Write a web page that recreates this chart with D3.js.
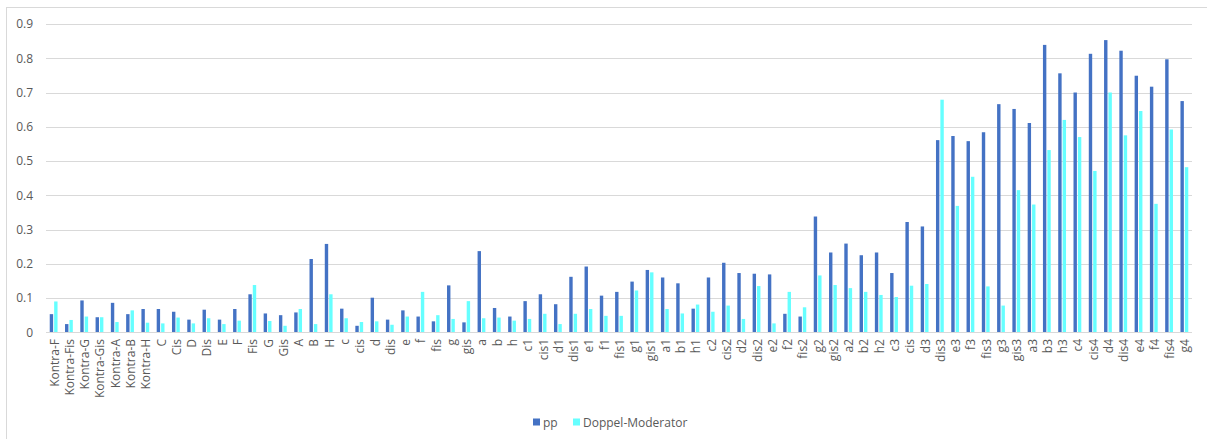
<!DOCTYPE html>
<html>
<head>
<meta charset="utf-8">
<script src="https://cdn.jsdelivr.net/npm/d3@7"></script>
<style>
  html, body { margin: 0; padding: 0; background: #fff; }
  svg { display: block; font-family: "Open Sans", "Noto Sans", sans-serif; }
</style>
</head>
<body>
<svg id="chart" width="1207" height="439"></svg>
<script>
// Tone names, lowest to highest
const categories = [
  "Kontra-F","Kontra-Fis","Kontra-G","Kontra-Gis","Kontra-A","Kontra-B","Kontra-H",
  "C","Cis","D","Dis","E","F","Fis","G","Gis","A","B","H",
  "c","cis","d","dis","e","f","fis","g","gis","a","b","h",
  "c1","cis1","d1","dis1","e1","f1","fis1","g1","gis1","a1","b1","h1",
  "c2","cis2","d2","dis2","e2","f2","fis2","g2","gis2","a2","b2","h2",
  "c3","cis","d3","dis3","e3","f3","fis3","g3","gis3","a3","b3","h3",
  "c4","cis4","d4","dis4","e4","f4","fis4","g4"
];

const ppValues = [
  0.053,0.024,0.093,0.044,0.086,0.053,0.068,
  0.068,0.060,0.037,0.066,0.037,0.068,0.111,0.055,0.050,0.058,0.214,0.258,
  0.069,0.019,0.101,0.037,0.064,0.046,0.032,0.137,0.029,0.237,0.071,0.046,
  0.091,0.111,0.082,0.162,0.192,0.107,0.118,0.148,0.182,0.160,0.143,0.069,
  0.160,0.203,0.173,0.171,0.169,0.054,0.046,0.338,0.233,0.259,0.225,0.233,
  0.173,0.322,0.309,0.561,0.573,0.558,0.584,0.666,0.652,0.611,0.839,0.756,
  0.700,0.813,0.853,0.822,0.749,0.717,0.797,0.675
];

const doppelValues = [
  0.090,0.036,0.046,0.044,0.030,0.064,0.028,
  0.026,0.043,0.026,0.041,0.024,0.034,0.138,0.033,0.019,0.068,0.024,0.111,
  0.041,0.030,0.032,0.022,0.046,0.118,0.050,0.039,0.091,0.041,0.043,0.034,
  0.039,0.054,0.024,0.054,0.068,0.048,0.048,0.122,0.175,0.068,0.055,0.081,
  0.060,0.078,0.039,0.135,0.026,0.118,0.073,0.166,0.138,0.129,0.118,0.109,
  0.103,0.136,0.141,0.679,0.369,0.454,0.134,0.078,0.415,0.373,0.532,0.620,
  0.570,0.471,0.700,0.575,0.646,0.375,0.592,0.482
];

const yTicks = [0, 0.1, 0.2, 0.3, 0.4, 0.5, 0.6, 0.7, 0.8, 0.9];

const seriesNames = ["pp", "Doppel-Moderator"];
const seriesColors = ["#4472C4", "#66FFFF"];

const svg = d3.select("#chart");

// outer chart frame
svg.append("rect")
  .attr("x", 6.5).attr("y", 7.5)
  .attr("width", 1210).attr("height", 440)
  .attr("fill", "none").attr("stroke", "#D9D9D9").attr("stroke-width", 1);

const plot = { left: 46, right: 1192, top: 24, bottom: 332.3 };

const x = d3.scaleBand()
  .domain(d3.range(categories.length))
  .range([plot.left, plot.right])
  .paddingInner(0).paddingOuter(0);

const y = d3.scaleLinear()
  .domain([0, 0.9])
  .range([plot.bottom, plot.top]);

// horizontal gridlines
svg.append("g")
  .selectAll("line")
  .data(yTicks)
  .join("line")
  .attr("x1", plot.left).attr("x2", plot.right)
  .attr("y1", d => Math.round(y(d)) + 0.5).attr("y2", d => Math.round(y(d)) + 0.5)
  .attr("stroke", "#D9D9D9").attr("stroke-width", 1);

// y-axis labels
const yAxis = d3.axisLeft(y).tickValues(yTicks).tickFormat(d => d === 0 ? "0" : d3.format(".1f")(d)).tickSize(0).tickPadding(0);
svg.append("g")
  .attr("transform", `translate(${33},0)`)
  .call(yAxis)
  .call(g => g.select(".domain").remove())
  .call(g => g.selectAll("text")
    .attr("fill", "#595959")
    .attr("font-size", "12px")
    .attr("font-family", "\"Open Sans\", sans-serif"));

// bars
const barW = 3.4;
const gap = 1;
const series = [ppValues, doppelValues];
series.forEach((vals, si) => {
  svg.append("g")
    .selectAll("rect")
    .data(vals)
    .join("rect")
    .attr("x", (d, i) => {
      const c = x(i) + x.bandwidth() / 2;
      return si === 0 ? c - gap / 2 - barW : c + gap / 2;
    })
    .attr("y", d => y(d))
    .attr("width", barW)
    .attr("height", d => y(0) - y(d))
    .attr("fill", seriesColors[si]);
});

// baseline
svg.append("line")
  .attr("x1", plot.left).attr("x2", plot.right)
  .attr("y1", Math.round(y(0)) + 0.5).attr("y2", Math.round(y(0)) + 0.5)
  .attr("stroke", "#D9D9D9").attr("stroke-width", 1);

// category labels, rotated
svg.append("g")
  .selectAll("text")
  .data(categories)
  .join("text")
  .attr("transform", (d, i) => `translate(${x(i) + x.bandwidth() / 2 + 0.5},${339}) rotate(-90)`)
  .attr("text-anchor", "end")
  .attr("dominant-baseline", "central")
  .attr("font-size", "12px")
  .attr("fill", "#595959")
  .text(d => d);

// legend
const legendItems = [
  { name: seriesNames[0], color: seriesColors[0], x: 533 },
  { name: seriesNames[1], color: seriesColors[1], x: 573 }
];
const lg = svg.append("g");
legendItems.forEach(it => {
  lg.append("rect")
    .attr("x", it.x).attr("y", 418.5)
    .attr("width", 7).attr("height", 7)
    .attr("fill", it.color);
  lg.append("text")
    .attr("x", it.x + 10).attr("y", 422)
    .attr("dominant-baseline", "central")
    .attr("font-size", "12px")
    .attr("fill", "#595959")
    .text(it.name);
});
</script>
</body>
</html>
